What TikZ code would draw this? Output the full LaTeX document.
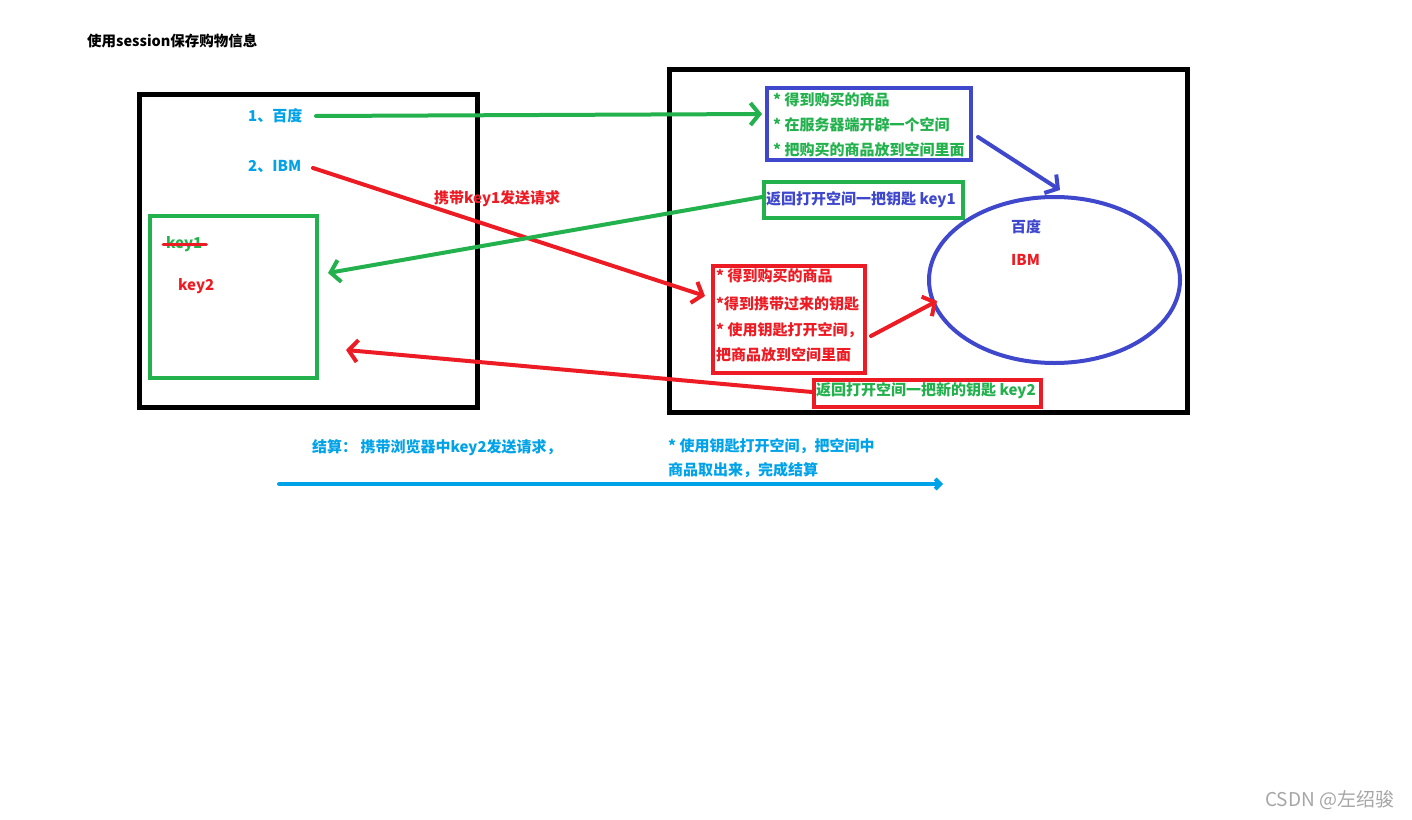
\documentclass[tikz,border=0pt]{standalone}
\usepackage{fontspec}
\setmainfont{Noto Sans CJK SC}
\usetikzlibrary{arrows.meta,shapes.geometric}
\definecolor{pgreen}{HTML}{22B14C}
\definecolor{pblue}{HTML}{3F48CC}
\definecolor{pred}{HTML}{ED1C24}
\definecolor{pcyan}{HTML}{00A2E8}
\definecolor{wgray}{HTML}{A6A6A6}
\begin{document}
\begin{tikzpicture}[x=1pt,y=-1pt,
  txt/.style={anchor=west,inner sep=0pt,font=\bfseries\fontsize{15}{15}\selectfont},
  box/.style={draw,line width=4pt,inner sep=0pt,rectangle},
  bigbox/.style={draw=black,line width=5pt,inner sep=0pt,rectangle},
  arr/.style={line width=4pt,line cap=round,line join=round,-{Straight Barb[length=9pt,width=22pt]}}]
\useasboundingbox[fill=white] (0,0) rectangle (1412,819);

% title
\node[txt,font=\bfseries\fontsize{14.5}{14.5}\selectfont] (title) at (87,41) {使用session保存购物信息};

% big boxes
\node[bigbox,minimum width=338pt,minimum height=313pt] (client) at (308,250.5) {};
\node[bigbox,minimum width=518pt,minimum height=343pt] (server) at (928,240.5) {};

% client side
\node[box,draw=pgreen,minimum width=167pt,minimum height=162pt] (cookie) at (233.5,297) {};
\node[txt,text=pcyan] (baidu) at (248,116) {1、百度};
\node[txt,text=pcyan] (ibm) at (248,166) {2、IBM};
\node[txt,text=pgreen] (k1) at (166,244) {key1};
\draw[pred,line width=3pt,line cap=round] ([xshift=-3pt]k1.west) -- ([xshift=4pt]k1.east);
\node[txt,text=pred] (k2) at (178,286) {key2};

% server side
\node[box,draw=pblue,minimum width=204pt,minimum height=72pt] (bbox) at (869,124) {};
\node[txt,text=pgreen] (b1) at (773,100) {* 得到购买的商品};
\node[txt,text=pgreen] (b2) at (773,125) {* 在服务器端开辟一个空间};
\node[txt,text=pgreen] (b3) at (773,150) {* 把购买的商品放到空间里面};

\node[box,draw=pgreen,minimum width=199pt,minimum height=36pt] (gbox) at (863.5,200) {};
\node[txt,text=pblue] (g1) at (766,200) {返回打开空间一把钥匙 key1};

\node[draw=pblue,line width=4pt,ellipse,inner sep=0pt,minimum width=251pt,minimum height=166pt] (space) at (1054.5,280) {};
\node[txt,text=pblue] (sb) at (1011,227) {百度};
\node[txt,text=pred] (si) at (1011,260) {IBM};

\node[box,draw=pred,minimum width=152pt,minimum height=107pt] (rbox) at (789,319.5) {};
\node[txt,text=pred] (r1) at (716,276) {* 得到购买的商品};
\node[txt,text=pred] (r2) at (716,304) {*得到携带过来的钥匙};
\node[txt,text=pred] (r3) at (716,330) {* 使用钥匙打开空间，};
\node[txt,text=pred] (r4) at (716,355) {把商品放到空间里面};

\node[box,draw=pred,minimum width=227pt,minimum height=27pt] (kbox) at (927.5,393) {};
\node[txt,text=pgreen] (kt) at (816,391) {返回打开空间一把新的钥匙 key2};

\node[txt,text=pred] (req) at (434,199) {携带key1发送请求};

% connectors
\coordinate (a1s) at (316,116);
\coordinate (a1e) at (762,114);
\draw[arr,pgreen] (a1s) -- (a1e);

\coordinate (a2s) at (313,168);
\coordinate (a2e) at (705,296);
\draw[arr,pred] (a2s) -- (a2e);

\coordinate (a3s) at (762,197);
\coordinate (a3e) at (328,273);
\draw[arr,pgreen] (a3s) -- (a3e);

\coordinate (a4s) at (978,137);
\coordinate (a4e) at (1060,190);
\draw[arr,pblue] (a4s) -- (a4e);

\coordinate (a5s) at (871,336);
\coordinate (a5e) at (937,301);
\draw[arr,pred] (a5s) -- (a5e);

\coordinate (a6s) at (812,392);
\coordinate (a6e) at (346,350);
\draw[arr,pred] (a6s) -- (a6e);

% settlement
\node[txt,text=pcyan] (s1) at (312,448) {结算： 携带浏览器中key2发送请求，};
\node[txt,text=pcyan] (s2) at (668,446) {* 使用钥匙打开空间，把空间中};
\node[txt,text=pcyan] (s3) at (668,470) {商品取出来，完成结算};
\coordinate (a7s) at (279,484);
\coordinate (a7e) at (943,484);
\draw[pcyan,line width=4pt,line cap=round,-{Straight Barb[length=5pt,width=10pt]}] (a7s) -- (a7e);

% watermark
\node[anchor=west,inner sep=0pt,text=wgray,font=\fontsize{19}{19}\selectfont] (wm) at (1265,800) {CSDN @左绍骏};
\end{tikzpicture}
\end{document}
